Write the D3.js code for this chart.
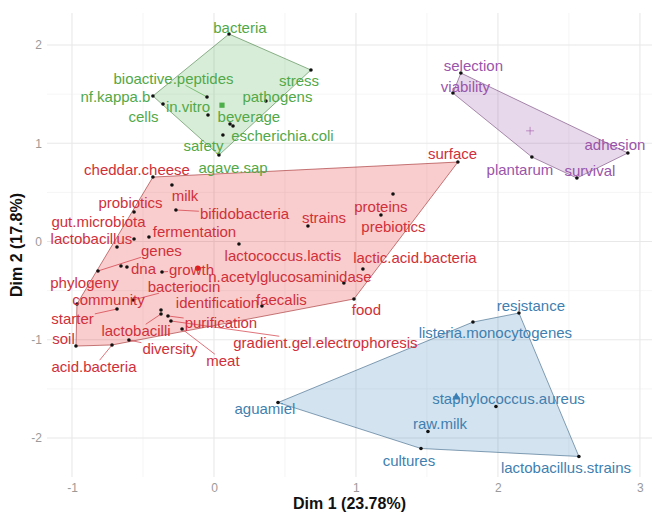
<!DOCTYPE html>
<html><head><meta charset="utf-8">
<script src="https://cdn.jsdelivr.net/npm/d3@7"></script>
<style>body{margin:0;background:#fff;} text{font-family:"Liberation Sans",Arial,sans-serif;}</style>
</head><body><svg id="c" width="655" height="514"></svg>
<script>
// ---- data ----
const terms = [
 "bacteria","stress","nf.kappa.b","bioactive.peptides","pathogens","cells","in.vitro","beverage","agave.sap","escherichia.coli","safety",
 "cheddar.cheese","milk","probiotics","bifidobacteria","gut.microbiota","lactobacillus","fermentation","genes","dna","phylogeny","growth",
 "community","bacteriocin","starter","identification","lactobacilli","purification","gradient.gel.electrophoresis","meat","soil",
 "acid.bacteria","diversity","faecalis","food","n.acetylglucosaminidase","lactic.acid.bacteria","lactococcus.lactis","strains",
 "proteins","prebiotics","surface",
 "selection","viability","plantarum","survival","adhesion",
 "resistance","listeria.monocytogenes","staphylococcus.aureus","raw.milk","cultures","lactobacillus.strains","aguamiel"];
const dim1 = [
 0.106,0.683,-0.430,-0.049,0.366,-0.359,-0.042,0.113,0.134,0.063,0.035,
 -0.430,-0.296,-0.563,-0.268,-0.563,-0.683,-0.458,-0.817,-0.613,-0.655,-0.366,
 -0.965,-0.570,-0.683,-0.373,-0.373,-0.324,-0.303,-0.225,-0.972,
 -0.718,-0.599,0.338,0.986,0.915,1.049,0.176,0.662,
 1.261,1.176,1.718,
 1.739,1.683,2.239,2.556,2.915,
 2.148,1.824,1.986,1.507,1.458,2.570,0.451];
const dim2 = [
 2.112,1.746,1.481,1.471,1.430,1.399,1.288,1.196,1.176,1.084,0.880,
 0.656,0.575,0.300,0.321,0.025,-0.056,0.046,-0.300,-0.260,-0.249,-0.310,
 -0.636,-0.595,-0.687,-0.697,-0.738,-0.758,-0.809,-0.891,-1.064,
 -1.053,-1.003,-0.656,-0.585,-0.422,-0.280,-0.025,0.158,
 0.483,0.270,0.809,
 1.715,1.511,0.860,0.646,0.901,
 -0.728,-0.820,-1.679,-1.934,-2.107,-2.188,-1.639];
const cluster = [
 3,3,3,3,3,3,3,3,3,3,3,
 1,1,1,1,1,1,1,1,1,1,1,
 1,1,1,1,1,1,1,1,1,
 1,1,1,1,1,1,1,1,
 1,1,1,
 4,4,4,4,4,
 2,2,2,2,2,2,2];
// repelled label positions (data units)
const labelDim1 = [
 0.183,0.599,-0.694,-0.285,0.447,-0.496,-0.183,0.246,0.134,0.482,-0.074,
 -0.542,-0.204,-0.588,0.215,-0.813,-0.863,-0.137,-0.370,-0.496,-0.912,-0.158,
 -0.743,-0.211,-0.996,0.025,-0.549,0.049,0.785,0.063,-1.060,
 -0.845,-0.310,0.475,1.074,0.535,1.415,0.486,0.775,
 1.176,1.264,1.680,
 1.827,1.771,2.155,2.648,2.824,
 2.232,1.982,2.074,1.592,1.373,2.479,0.359];
const labelDim2 = [
 2.173,1.634,1.471,1.654,1.471,1.267,1.369,1.267,0.748,1.074,0.972,
 0.728,0.463,0.392,0.280,0.198,0.025,0.097,-0.097,-0.280,-0.422,-0.290,
 -0.595,-0.463,-0.789,-0.626,-0.911,-0.830,-1.033,-1.216,-0.992,
 -1.277,-1.094,-0.595,-0.697,-0.361,-0.168,-0.148,0.239,
 0.351,0.148,0.891,
 1.786,1.573,0.728,0.718,0.982,
 -0.656,-0.931,-1.603,-1.858,-2.234,-2.305,-1.705];
const leaderTerms = ["bioactive.peptides","bifidobacteria","genes","growth","bacteriocin","starter","lactobacilli",
 "purification","gradient.gel.electrophoresis","meat","diversity","acid.bacteria"];
const clusterIds = [1,2,3,4];
const clusterColors = {1:"#E41A1C",2:"#377EB8",3:"#4DAF4A",4:"#984EA3"};
const clusterTextColors = {1:"#D0303A",2:"#3F7FB0",3:"#52A848",4:"#9A55AA"};
const xTicks = [-1,0,1,2,3];
const yTicks = [-2,-1,0,1,2];
const xTitle = "Dim 1 (23.78%)";
const yTitle = "Dim 2 (17.8%)";

// ---- chart ----
const svg = d3.select("#c");
const panel = {l:47, r:652, t:13, b:477};
const x = d3.scaleLinear().domain([-1.176, 3.085]).range([panel.l, panel.r]);
const y = d3.scaleLinear().domain([-2.397, 2.326]).range([panel.b, panel.t]);

const pts = terms.map((t,i)=>({term:t, x:dim1[i], y:dim2[i], c:cluster[i], lx:labelDim1[i], ly:labelDim2[i]}));

// grid
const g = svg.append("g");
const minorX = d3.range(-1, 3.01, 0.5).filter(v=>!Number.isInteger(v));
const minorY = d3.range(-2, 2.01, 0.5).filter(v=>!Number.isInteger(v));
g.selectAll(".mx").data(minorX).join("line").attr("x1",d=>x(d)).attr("x2",d=>x(d)).attr("y1",panel.t).attr("y2",panel.b).attr("stroke","#f0f0f0").attr("stroke-width",0.7);
g.selectAll(".my").data(minorY).join("line").attr("y1",d=>y(d)).attr("y2",d=>y(d)).attr("x1",panel.l).attr("x2",panel.r).attr("stroke","#f0f0f0").attr("stroke-width",0.7);
g.selectAll(".gx").data(xTicks).join("line").attr("x1",d=>x(d)).attr("x2",d=>x(d)).attr("y1",panel.t).attr("y2",panel.b).attr("stroke","#e8e8e8").attr("stroke-width",1.1);
g.selectAll(".gy").data(yTicks).join("line").attr("y1",d=>y(d)).attr("y2",d=>y(d)).attr("x1",panel.l).attr("x2",panel.r).attr("stroke","#e8e8e8").attr("stroke-width",1.1);

// axes (tick labels only)
const xa = svg.append("g").attr("transform",`translate(0,${panel.b})`)
  .call(d3.axisBottom(x).tickValues(xTicks).tickSize(0).tickPadding(6).tickFormat(d=>String(d)));
xa.select(".domain").remove();
xa.selectAll("text").attr("fill","#9a9a9a").style("font-size","12px").style("font-family","Liberation Sans, Arial, sans-serif");
const ya = svg.append("g").attr("transform",`translate(${panel.l},0)`)
  .call(d3.axisLeft(y).tickValues(yTicks).tickSize(0).tickPadding(5).tickFormat(d=>String(d)));
ya.select(".domain").remove();
ya.selectAll("text").attr("fill","#9a9a9a").style("font-size","12px").style("font-family","Liberation Sans, Arial, sans-serif");

svg.append("text").attr("x",(panel.l+panel.r)/2).attr("y",509).attr("text-anchor","middle")
  .style("font-size","16px").style("font-weight","bold").attr("fill","#111").text(xTitle);
svg.append("text").attr("transform",`translate(22,${(panel.t+panel.b)/2}) rotate(-90)`).attr("text-anchor","middle")
  .style("font-size","16px").style("font-weight","bold").attr("fill","#111").text(yTitle);

// hulls
const hullG = svg.append("g");
clusterIds.forEach(c=>{
  const p = pts.filter(d=>d.c===c).map(d=>[x(d.x),y(d.y)]);
  const h = d3.polygonHull(p);
  hullG.append("path").attr("d","M"+h.join("L")+"Z")
    .attr("fill",clusterColors[c]).attr("fill-opacity",0.22)
    .attr("stroke",d3.color(clusterColors[c]).darker(1.2)).attr("stroke-opacity",0.6).attr("stroke-width",0.9);
});

// segments layer, then labels
const segG = svg.append("g");
const labG = svg.append("g");
const labels = labG.selectAll("text").data(pts).join("text")
  .attr("x",d=>x(d.lx)).attr("y",d=>y(d.ly)).attr("dy","0.35em").attr("text-anchor","middle")
  .style("font-size","15px").attr("fill",d=>clusterTextColors[d.c]).text(d=>d.term);

// leader segments
labels.each(function(d){
  if(!leaderTerms.includes(d.term)) return;
  const bb = this.getBBox();
  const px = x(d.x), py = y(d.y);
  const cx = bb.x+bb.width/2, cy = bb.y+bb.height/2;
  const hw = bb.width/2+1, hh = bb.height/2-2;
  const dx = px-cx, dy = py-cy;
  const t = Math.min(Math.abs(dx)>0?hw/Math.abs(dx):Infinity, Math.abs(dy)>0?hh/Math.abs(dy):Infinity);
  const ex = cx+dx*t, ey = cy+dy*t;
  segG.append("line").attr("x1",px).attr("y1",py).attr("x2",ex).attr("y2",ey)
    .attr("stroke",clusterTextColors[d.c]).attr("stroke-width",0.8).attr("stroke-opacity",0.85);
});

// points
const ptG = svg.append("g");
ptG.selectAll("circle").data(pts).join("circle")
  .attr("cx",d=>x(d.x)).attr("cy",d=>y(d.y)).attr("r",1.8).attr("fill","#111");

// centroids
const cg = svg.append("g");
clusterIds.forEach(c=>{
  const sub = pts.filter(d=>d.c===c);
  const mx = x(d3.mean(sub,d=>d.x)), my = y(d3.mean(sub,d=>d.y));
  const col = clusterColors[c];
  if(c===1) cg.append("circle").attr("cx",mx).attr("cy",my).attr("r",2.8).attr("fill",col);
  if(c===2) cg.append("path").attr("d",d3.symbol(d3.symbolTriangle,28)()).attr("transform",`translate(${mx},${my})`).attr("fill",col);
  if(c===3) cg.append("rect").attr("x",mx-2.6).attr("y",my-2.6).attr("width",5.2).attr("height",5.2).attr("fill",col);
  if(c===4){
    cg.append("line").attr("x1",mx-4).attr("x2",mx+4).attr("y1",my).attr("y2",my).attr("stroke",col).attr("stroke-width",0.8).attr("stroke-opacity",0.7);
    cg.append("line").attr("x1",mx).attr("x2",mx).attr("y1",my-4).attr("y2",my+4).attr("stroke",col).attr("stroke-width",0.8).attr("stroke-opacity",0.7);
  }
});
labG.raise();
</script></body></html>
